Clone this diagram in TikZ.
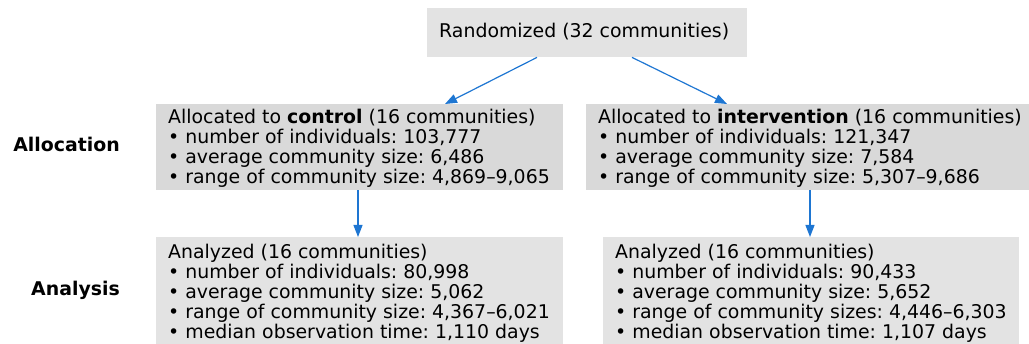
\documentclass[tikz,border=0pt]{standalone}
\usepackage{fontspec}
\setmainfont{DejaVu Sans}
\usetikzlibrary{arrows.meta}
\definecolor{boxlight}{HTML}{E3E3E3}
\definecolor{boxdark}{HTML}{D9D9D9}
\definecolor{flowblue}{RGB}{30,118,210}
\frenchspacing
\tikzset{
  box/.style={rectangle, inner sep=0pt, anchor=north west},
  txt/.style={inner sep=0pt, anchor=base west, font=\fontsize{18.9}{19}\selectfont},
  lab/.style={inner sep=0pt, anchor=base east, font=\fontsize{18.9}{19}\selectfont\bfseries},
  flow/.style={draw=flowblue, line width=1.2pt, -{Triangle[length=12pt,width=9pt]}}
}
\newcommand{\lines}[1]{\begin{tabular}[t]{@{}l@{}}#1\end{tabular}}
\begin{document}
\begin{tikzpicture}[x=1pt, y=-1pt]
  \useasboundingbox (0,0) rectangle (1029,344);

  % boxes
  \node[box, fill=boxlight, minimum width=320pt, minimum height=49pt] (rand) at (427,8) {};
  \node[box, fill=boxdark, minimum width=407pt, minimum height=86pt] (ctrl) at (156,104) {};
  \node[box, fill=boxdark, minimum width=443pt, minimum height=86pt] (intv) at (586,104) {};
  \node[box, fill=boxlight, minimum width=407pt, minimum height=108pt] (ctrlan) at (156,237) {};
  \node[box, fill=boxlight, minimum width=416pt, minimum height=108pt] (intvan) at (603,237) {};

  % box texts
  \node[txt] (rand-t) at (439,37.5) {Randomized (32 communities)};
  \node[txt] (ctrl-t) at (168,123.5) {\lines{%
    Allocated to \textbf{control} (16 communities)\\
    • number of individuals: 103,777\\
    • average community size: 6,486\\
    • range of community size: 4,869–9,065}};
  \node[txt] (intv-t) at (598,123.5) {\lines{%
    Allocated to \textbf{intervention} (16 communities)\\
    • number of individuals: 121,347\\
    • average community size: 7,584\\
    • range of community size: 5,307–9,686}};
  \node[txt] (ctrlan-t) at (168,258.5) {\lines{%
    Analyzed (16 communities)\\
    • number of individuals: 80,998\\
    • average community size: 5,062\\
    • range of community size: 4,367–6,021\\
    • median observation time: 1,110 days}};
  \node[txt] (intvan-t) at (615,258.5) {\lines{%
    Analyzed (16 communities)\\
    • number of individuals: 90,433\\
    • average community size: 5,652\\
    • range of community sizes: 4,446–6,303\\
    • median observation time: 1,107 days}};

  % stage labels
  \node[lab] (stage-alloc) at (120,152) {Allocation};
  \node[lab] (stage-anal) at (120,296) {Analysis};

  % connectors
  \draw[flow] ([xshift=110pt]rand.south west) -- ([xshift=289pt]ctrl.north west);
  \draw[flow] ([xshift=205pt]rand.south west) -- ([xshift=141pt]intv.north west);
  \draw[flow] ([xshift=202pt]ctrl.south west) -- ([xshift=202pt]ctrlan.north west);
  \draw[flow] ([xshift=224pt]intv.south west) -- ([xshift=207pt]intvan.north west);
\end{tikzpicture}
\end{document}
